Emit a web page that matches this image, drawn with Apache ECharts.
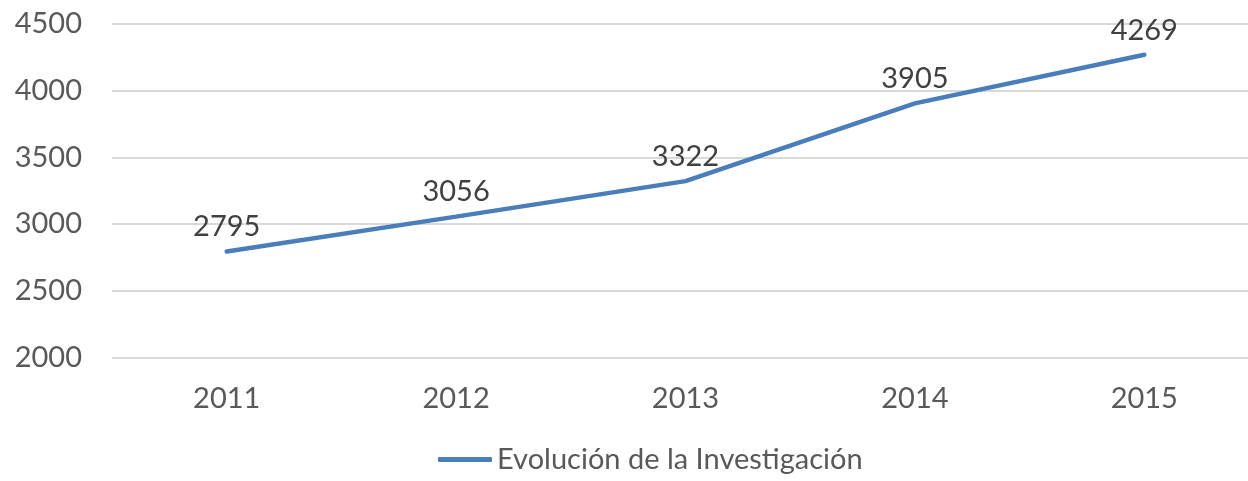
<!DOCTYPE html>
<html>
<head>
<meta charset="utf-8">
<script src="https://cdn.jsdelivr.net/npm/echarts@6/dist/echarts.min.js"></script>
<style>
html,body{margin:0;padding:0;background:#fff;overflow:hidden;}
#chart{width:1270px;height:481px;}
</style>
</head>
<body>
<div id="chart"></div>
<script>
const categories = ['2011', '2012', '2013', '2014', '2015'];
const values = [2795, 3056, 3322, 3905, 4269];
const seriesName = 'Evolución de la Investigación';

const FONT = 'Lato, "Open Sans", sans-serif';
const FS = 29;
const chart = echarts.init(document.getElementById('chart'));
chart.setOption({
  animation: false,
  backgroundColor: '#ffffff',
  grid: { left: 112, width: 1147, top: 24, height: 333.5, containLabel: false },
  xAxis: {
    type: 'category',
    data: categories,
    boundaryGap: true,
    axisLine: { show: false },
    axisTick: { show: false },
    axisLabel: { color: '#595959', fontSize: FS, fontFamily: FONT, margin: 27 }
  },
  yAxis: {
    type: 'value',
    min: 2000, max: 4500, interval: 500,
    axisLine: { show: false },
    axisTick: { show: false },
    axisLabel: { color: '#595959', fontSize: FS, fontFamily: FONT, margin: 30, formatter: v => String(v) },
    splitLine: { lineStyle: { color: '#d9d9d9', width: 2 } }
  },
  legend: {
    data: [{ name: seriesName, icon: 'roundRect' }],
    left: 433, top: 440,
    itemWidth: 54, itemHeight: 5,
    textStyle: { color: '#595959', fontSize: FS, fontFamily: FONT }
  },
  series: [{
    name: seriesName,
    type: 'line',
    data: values,
    symbol: 'circle',
    symbolSize: 0.1,
    lineStyle: { color: '#4a7ebb', width: 4.5, cap: 'round' },
    itemStyle: { color: '#4a7ebb' },
    label: { show: true, position: 'top', distance: 10, color: '#404040', fontSize: FS, fontFamily: FONT }
  }]
});
</script>
</body>
</html>
